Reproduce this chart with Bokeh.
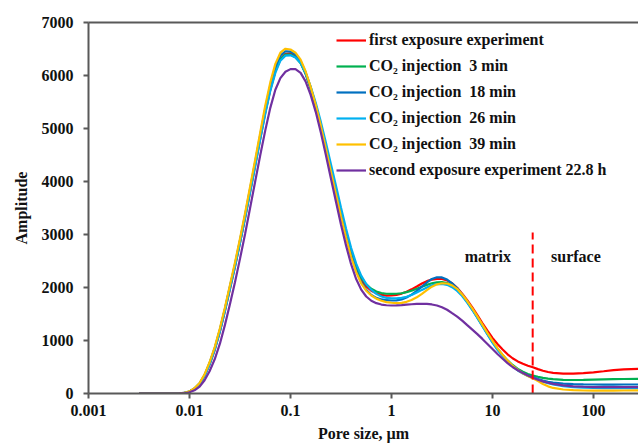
from bokeh.plotting import figure
from bokeh.models import Range1d, FixedTicker, CustomJSTickFormatter, LinearAxis, Title
from bokeh.core.properties import value
from bokeh.embed import file_html
from bokeh.resources import INLINE

# ---- data ----
pore_size = [0.00316, 0.00501, 0.00631, 0.00794, 0.00891, 0.01, 0.0112, 0.0126, 0.0141, 0.0158,
             0.0178, 0.02, 0.0224, 0.0251, 0.0282, 0.0316, 0.0355, 0.0398, 0.0447, 0.0501,
             0.0562, 0.0631, 0.0708, 0.0794, 0.0891, 0.1, 0.112, 0.126, 0.141, 0.158,
             0.178, 0.2, 0.224, 0.251, 0.282, 0.316, 0.355, 0.398, 0.447, 0.501,
             0.562, 0.631, 0.708, 0.794, 0.891, 1.0, 1.12, 1.26, 1.41, 1.58,
             1.78, 2.0, 2.24, 2.51, 2.82, 3.16, 3.55, 3.98, 4.47, 5.01,
             5.62, 6.31, 7.08, 7.94, 8.91, 10, 11.2, 12.6, 14.1, 15.8,
             17.8, 20, 22.4, 25.1, 28.2, 31.6, 35.5, 39.8, 50.1, 63.1,
             79.4, 100, 126, 158, 200, 282]

first_exposure = [0, 0, 0, 2, 10, 34, 88, 180, 330, 545,
                  825, 1165, 1550, 1960, 2390, 2840, 3310, 3800, 4300, 4800,
                  5290, 5730, 6080, 6310, 6410, 6420, 6370, 6250, 6040, 5760,
                  5420, 5030, 4620, 4200, 3780, 3370, 2980, 2630, 2350, 2150,
                  2020, 1940, 1890, 1860, 1848, 1850, 1862, 1885, 1920, 1965,
                  2020, 2075, 2120, 2150, 2164, 2160, 2135, 2080, 1995, 1885,
                  1760, 1625, 1480, 1330, 1185, 1050, 935, 830, 740, 665,
                  605, 560, 525, 495, 460, 430, 405, 390, 375, 375,
                  385, 400, 420, 440, 455, 466]
co2_3min = [0, 0, 0, 3, 11, 37, 93, 188, 342, 565,
            850, 1195, 1580, 1995, 2420, 2865, 3340, 3830, 4330, 4830,
            5320, 5750, 6090, 6310, 6395, 6395, 6345, 6230, 6030, 5760,
            5430, 5050, 4650, 4235, 3820, 3410, 3020, 2670, 2390, 2190,
            2060, 1975, 1925, 1895, 1882, 1880, 1882, 1892, 1912, 1940,
            1975, 2015, 2050, 2080, 2097, 2100, 2085, 2045, 1975, 1860,
            1730, 1590, 1440, 1285, 1130, 980, 845, 728, 625, 538,
            465, 410, 368, 338, 315, 295, 280, 270, 258, 255,
            257, 262, 267, 271, 274, 277]
co2_18min = [0, 0, 0, 3, 11, 38, 96, 193, 350, 575,
             862, 1208, 1595, 2012, 2440, 2890, 3370, 3865, 4370, 4875,
             5375, 5810, 6160, 6375, 6458, 6450, 6395, 6270, 6060, 5780,
             5440, 5050, 4640, 4215, 3790, 3375, 2980, 2620, 2320, 2100,
             1955, 1860, 1805, 1775, 1760, 1755, 1758, 1775, 1810, 1865,
             1935, 2015, 2095, 2160, 2193, 2190, 2150, 2080, 1985, 1865,
             1730, 1585, 1435, 1280, 1125, 970, 835, 715, 610, 520,
             445, 385, 340, 305, 275, 245, 220, 205, 188, 178,
             172, 170, 169, 169, 170, 170]
co2_26min = [0, 0, 0, 2, 10, 35, 88, 180, 330, 548,
             830, 1170, 1555, 1970, 2395, 2840, 3310, 3795, 4290, 4790,
             5275, 5710, 6050, 6280, 6375, 6380, 6340, 6235, 6050, 5795,
             5480, 5120, 4735, 4330, 3920, 3510, 3110, 2750, 2450, 2225,
             2065, 1955, 1880, 1830, 1805, 1795, 1795, 1805, 1825, 1860,
             1905, 1955, 2000, 2040, 2065, 2068, 2050, 2005, 1935, 1840,
             1715, 1575, 1425, 1270, 1115, 960, 825, 705, 600, 510,
             435, 375, 330, 295, 260, 225, 195, 170, 140, 122,
             112, 106, 102, 100, 100, 100]
co2_39min = [0, 0, 0, 3, 12, 40, 100, 200, 360, 590,
             880, 1230, 1620, 2040, 2470, 2920, 3400, 3900, 4410, 4920,
             5430, 5870, 6220, 6430, 6505, 6490, 6430, 6300, 6080, 5790,
             5440, 5040, 4620, 4190, 3760, 3340, 2940, 2580, 2290, 2080,
             1940, 1850, 1790, 1750, 1725, 1712, 1705, 1710, 1730, 1765,
             1815, 1880, 1950, 2015, 2060, 2080, 2075, 2040, 1975, 1870,
             1745, 1605, 1455, 1300, 1145, 995, 855, 730, 620, 525,
             445, 380, 330, 285, 235, 180, 135, 105, 75, 62,
             57, 55, 55, 56, 57, 58]
second_exposure = [0, 0, 0, 1, 5, 22, 60, 130, 250, 420,
                   650, 940, 1290, 1680, 2100, 2540, 3010, 3500, 4000, 4490,
                   4960, 5390, 5730, 5950, 6070, 6120, 6120, 6050, 5890, 5640,
                   5310, 4920, 4500, 4060, 3620, 3190, 2790, 2440, 2160, 1960,
                   1830, 1750, 1705, 1678, 1665, 1660, 1662, 1668, 1676, 1684,
                   1690, 1692, 1690, 1680, 1660, 1628, 1580, 1515, 1450, 1375,
                   1290, 1205, 1120, 1030, 935, 840, 745, 655, 572, 500,
                   438, 385, 338, 297, 260, 228, 202, 182, 152, 136,
                   127, 122, 120, 119, 119, 120]

series_names = ["first exposure experiment", "CO₂ injection  3 min", "CO₂ injection  18 min",
                "CO₂ injection  26 min", "CO₂ injection  39 min", "second exposure experiment 22.8 h"]
series_values = [first_exposure, co2_3min, co2_18min, co2_26min, co2_39min, second_exposure]
series_colors = ["#FF0000", "#00B050", "#0070C0", "#00B0F0", "#FFC000", "#7030A0"]

x_ticks = [0.001, 0.01, 0.1, 1, 10, 100]
y_ticks = [0, 1000, 2000, 3000, 4000, 5000, 6000, 7000]

boundary_x = [25, 25]
boundary_y = [0, 3040]
region_labels = ["matrix", "surface"]
region_x = [9.0, 67]
region_y = [2590, 2590]

for vals in series_values:
    assert len(vals) == len(pore_size)

FONT = "Liberation Serif"

p = figure(width=638, height=446, x_axis_type="log",
           x_range=Range1d(0.001, 279), y_range=Range1d(0, 7000),
           output_backend="svg", toolbar_location=None,
           min_border_left=88, min_border_right=0, min_border_top=22, min_border_bottom=53)
p.outline_line_color = None
p.grid.visible = False
p.background_fill_color = "white"
p.border_fill_color = "white"

for name, vals, col in zip(series_names, series_values, series_colors):
    p.line(pore_size, vals, line_color=col, line_width=2.2, legend_label=name)

p.line(boundary_x, boundary_y, line_color="#FF0000", line_width=2, line_dash="9 5")
p.text(region_x, region_y, text=region_labels, text_font=value(FONT), text_font_style="bold",
       text_font_size="16px", text_align="center", text_baseline="middle", text_color="#111111")

axis_col = "#595959"
for ax in (p.xaxis[0], p.yaxis[0]):
    ax.axis_line_color = axis_col
    ax.axis_line_width = 2
    ax.major_tick_line_color = axis_col
    ax.major_tick_line_width = 2
    ax.major_tick_out = 5
    ax.major_tick_in = 0
    ax.minor_tick_line_color = None
    ax.major_label_text_font = FONT
    ax.major_label_text_font_style = "bold"
    ax.major_label_text_font_size = "16px"
    ax.major_label_text_color = "#111111"
    ax.axis_label_text_font = FONT
    ax.axis_label_text_font_style = "bold"
    ax.axis_label_text_font_size = "16px"
    ax.axis_label_text_color = "#111111"

p.xaxis[0].ticker = FixedTicker(ticks=x_ticks)
p.xaxis[0].formatter = CustomJSTickFormatter(code="return tick.toString();")
p.xaxis[0].axis_label = "Pore size, µm"
p.xaxis[0].major_label_standoff = 6
p.xaxis[0].axis_label_standoff = 6

p.yaxis[0].ticker = FixedTicker(ticks=y_ticks)
p.yaxis[0].major_label_standoff = 10

ytitle = Title(text="Amplitude", align="center", offset=21, standoff=18,
               text_font=FONT, text_font_style="bold", text_font_size="16px", text_color="#111111")
p.add_layout(ytitle, "left")

top = LinearAxis(axis_line_color=axis_col, axis_line_width=2, ticker=FixedTicker(ticks=[]),
                 major_tick_line_color=None, minor_tick_line_color=None, major_label_standoff=0)
p.add_layout(top, "above")

lg = p.legend[0]
lg.location = (248, 213)
lg.padding = 0
lg.margin = 0
lg.spacing = 6
lg.glyph_width = 30
lg.glyph_height = 20
lg.label_height = 20
lg.label_standoff = 3
lg.border_line_color = None
lg.background_fill_alpha = 0
lg.label_text_font = FONT
lg.label_text_font_style = "bold"
lg.label_text_font_size = "16px"
lg.label_text_color = "#111111"

open("out.html", "w").write(file_html(p, INLINE))
